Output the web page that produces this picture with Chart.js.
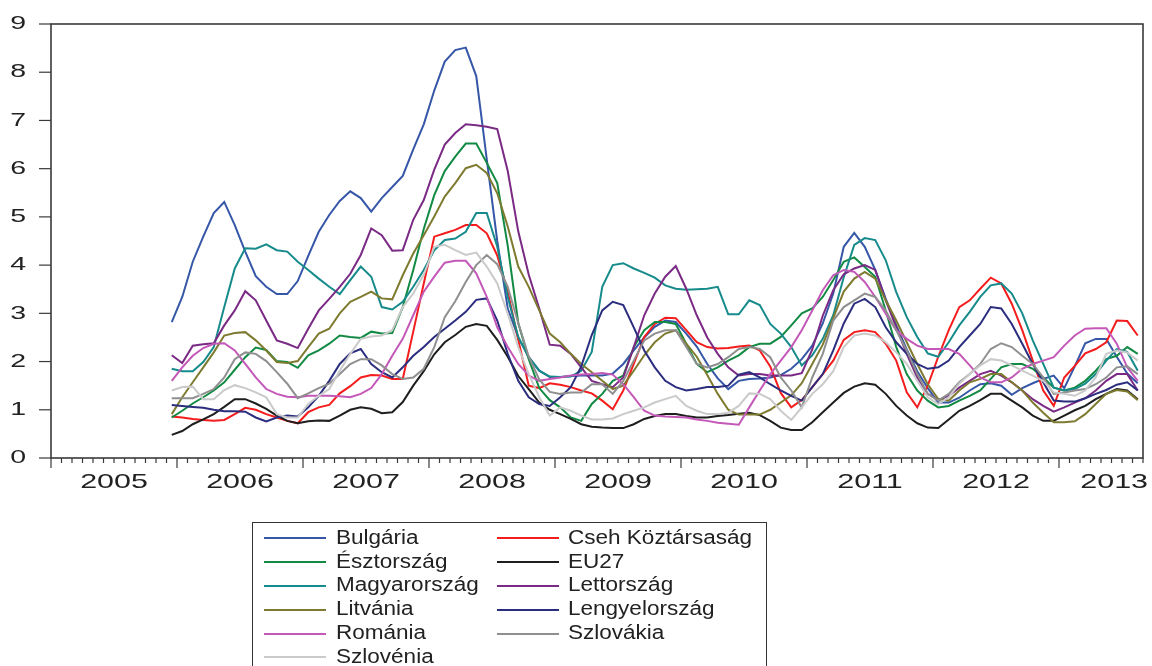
<!DOCTYPE html>
<html>
<head>
<meta charset="utf-8">
<script src="https://cdn.jsdelivr.net/npm/chart.js@4.4.1/dist/chart.umd.min.js"></script>
<style>
  html, body { margin: 0; padding: 0; background: #fff; overflow: hidden; }
  #wrap { position: relative; width: 1152px; height: 666px; }
  #chart { position: absolute; left: 0; top: 0; }
  #legend {
    position: absolute; left: 252px; top: 522px; width: 515px; height: 170px;
    border: 1.3px solid #333; box-sizing: border-box;
  }
  .swatch { position: absolute; width: 62px; height: 2px; }
  .name {
    position: absolute; font: 19.5px "Liberation Sans", Arial, sans-serif; line-height: 19.5px;
    color: #222; white-space: nowrap; transform: scaleX(1.155); transform-origin: 0 50%;
  }
</style>
</head>
<body>
<div id="wrap">
  <canvas id="chart" width="1152" height="666"></canvas>
  <div id="legend"></div>
</div>
<script>
// axis: monthly slots Jan 2005 .. Aug 2013, series start Dec 2005
const years = ['2005', '2006', '2007', '2008', '2009', '2010', '2011', '2012', '2013'];
const lastYearMonths = 8;
const startSlot = 11;
const yTicks = [0, 1, 2, 3, 4, 5, 6, 7, 8, 9];

const names = ['Bulgária', 'Cseh Köztársaság', 'Észtország', 'EU27', 'Magyarország', 'Lettország',
               'Litvánia', 'Lengyelország', 'Románia', 'Szlovákia', 'Szlovénia'];
const colors = ['#3657a7', '#f41c1c', '#138a44', '#1e1e1e', '#178b8b', '#7a2a84',
                '#7e7b30', '#2b2d7e', '#c458b8', '#8f8f8f', '#cacaca'];

const bulgaria = [
  2.82, 3.34, 4.07, 4.59, 5.08, 5.31, 4.83, 4.28, 3.77, 3.55, 3.40, 3.40, 3.67, 4.19, 4.69, 5.04, 5.33, 5.53, 5.39, 5.11, 5.39, 5.62, 5.85, 6.40, 6.92,
  7.62, 8.22, 8.46, 8.51, 7.92, 6.20, 4.50, 3.10, 2.50, 2.09, 1.81, 1.68, 1.68,
  1.70, 1.71, 1.71, 1.71, 1.75, 1.95, 2.23, 2.50, 2.72, 2.85, 2.82, 2.58, 2.31, 1.95, 1.65, 1.43, 1.60, 1.64, 1.65, 1.67, 1.72, 1.85, 2.05, 2.33, 2.79, 3.41, 4.38,
  4.67, 4.38, 3.90, 3.30, 2.75, 2.25, 1.80, 1.45, 1.15, 1.15, 1.25, 1.40, 1.53, 1.55, 1.50, 1.31, 1.45, 1.55, 1.64, 1.71, 1.45, 1.90, 2.38, 2.47, 2.47, 2.10, 1.75, 1.55
];
const cseh = [
  0.86, 0.84, 0.81, 0.79, 0.77, 0.79, 0.91, 1.04, 1.00, 0.91, 0.84, 0.77, 0.72, 0.95, 1.05, 1.10, 1.34, 1.49, 1.67, 1.72, 1.71, 1.64, 1.64, 2.62, 3.62,
  4.59, 4.66, 4.73, 4.83, 4.83, 4.66, 4.20, 3.45, 2.45, 1.50, 1.45, 1.55, 1.52,
  1.47, 1.40, 1.34, 1.19, 1.01, 1.40, 1.95, 2.51, 2.78, 2.91, 2.90, 2.65, 2.40, 2.30, 2.27, 2.28, 2.31, 2.33, 2.23, 1.90, 1.35, 1.05, 1.20, 1.47, 1.74, 2.02, 2.45,
  2.61, 2.65, 2.61, 2.37, 2.02, 1.36, 1.05, 1.50, 2.10, 2.65, 3.13, 3.27, 3.51, 3.74, 3.62, 3.20, 2.65, 2.02, 1.40, 1.08, 1.67, 1.91, 2.17, 2.26, 2.40, 2.85, 2.84, 2.54
];
const esztorszag = [
  0.84, 0.98, 1.13, 1.26, 1.40, 1.57, 1.83, 2.09, 2.29, 2.24, 2.01, 1.99, 1.87, 2.13, 2.23, 2.37, 2.54, 2.51, 2.49, 2.62, 2.58, 2.59, 3.13, 3.90, 4.75,
  5.45, 5.95, 6.25, 6.52, 6.52, 6.12, 5.70, 4.40, 2.80, 2.05, 1.45, 1.20, 1.05,
  0.84, 0.77, 1.12, 1.33, 1.60, 1.71, 2.30, 2.65, 2.82, 2.82, 2.78, 2.37, 1.95, 1.78, 1.88, 2.02, 2.13, 2.30, 2.37, 2.37, 2.51, 2.75, 3.00, 3.10, 3.34, 3.69, 4.07,
  4.16, 3.96, 3.76, 3.06, 2.30, 1.74, 1.40, 1.19, 1.05, 1.08, 1.19, 1.29, 1.40, 1.64, 1.88, 1.95, 1.95, 1.85, 1.67, 1.46, 1.40, 1.46, 1.60, 1.81, 2.05, 2.12, 2.30, 2.16
];
const eu27 = [
  0.48, 0.56, 0.70, 0.80, 0.91, 1.06, 1.22, 1.22, 1.13, 1.02, 0.88, 0.77, 0.72, 0.76, 0.78, 0.77, 0.88, 1.00, 1.05, 1.02, 0.93, 0.95, 1.16, 1.50, 1.80,
  2.15, 2.40, 2.55, 2.72, 2.78, 2.74, 2.45, 2.10, 1.70, 1.43, 1.15, 1.00, 0.91,
  0.81, 0.70, 0.65, 0.63, 0.62, 0.62, 0.70, 0.81, 0.87, 0.91, 0.91, 0.87, 0.84, 0.84, 0.87, 0.89, 0.92, 0.94, 0.89, 0.77, 0.63, 0.58, 0.58, 0.74, 0.95, 1.15, 1.35,
  1.48, 1.55, 1.52, 1.33, 1.08, 0.88, 0.72, 0.63, 0.62, 0.80, 0.98, 1.08, 1.20, 1.33, 1.33, 1.19, 1.05, 0.88, 0.77, 0.77, 0.88, 0.99, 1.08, 1.22, 1.33, 1.43, 1.40, 1.22
];
const magyarorszag = [
  1.85, 1.80, 1.80, 1.99, 2.30, 3.13, 3.93, 4.35, 4.34, 4.43, 4.31, 4.28, 4.07, 3.90, 3.72, 3.55, 3.40, 3.69, 3.97, 3.76, 3.13, 3.08, 3.24, 3.55, 3.90,
  4.31, 4.52, 4.55, 4.69, 5.08, 5.08, 4.38, 3.34, 2.51, 2.09, 1.81, 1.69, 1.68,
  1.69, 1.81, 2.20, 3.55, 4.00, 4.04, 3.93, 3.84, 3.74, 3.58, 3.51, 3.49, 3.50, 3.51, 3.55, 2.98, 2.98, 3.27, 3.17, 2.78, 2.58, 2.30, 1.92, 2.13, 2.47, 2.96, 3.75,
  4.42, 4.56, 4.52, 4.10, 3.44, 2.92, 2.51, 2.17, 2.10, 2.40, 2.75, 3.03, 3.34, 3.58, 3.62, 3.41, 3.00, 2.44, 1.95, 1.46, 1.40, 1.43, 1.54, 1.74, 2.02, 2.26, 2.20, 1.81
];
const lettorszag = [
  2.13, 1.97, 2.33, 2.36, 2.38, 2.75, 3.06, 3.46, 3.27, 2.85, 2.44, 2.37, 2.28, 2.68, 3.06, 3.30, 3.55, 3.82, 4.21, 4.76, 4.62, 4.30, 4.31, 4.94, 5.35,
  5.98, 6.50, 6.74, 6.92, 6.90, 6.87, 6.82, 5.95, 4.70, 3.80, 3.10, 2.35, 2.33,
  2.16, 1.88, 1.60, 1.53, 1.47, 1.67, 2.30, 2.96, 3.41, 3.76, 3.98, 3.51, 2.96, 2.50, 2.16, 1.88, 1.71, 1.74, 1.74, 1.71, 1.71, 1.71, 1.76, 2.25, 2.95, 3.48, 3.81,
  3.93, 4.00, 3.90, 3.27, 2.71, 2.16, 1.67, 1.33, 1.20, 1.29, 1.46, 1.60, 1.74, 1.81, 1.71, 1.57, 1.40, 1.22, 1.08, 0.96, 1.05, 1.15, 1.24, 1.40, 1.60, 1.74, 1.74, 1.40
];
const litvania = [
  0.91, 1.26, 1.57, 1.88, 2.19, 2.54, 2.59, 2.61, 2.44, 2.23, 1.99, 1.97, 2.01, 2.30, 2.58, 2.68, 3.00, 3.24, 3.34, 3.45, 3.31, 3.29, 3.79, 4.24, 4.62,
  5.01, 5.42, 5.70, 6.01, 6.08, 5.91, 5.49, 4.80, 3.97, 3.55, 3.06, 2.58, 2.40,
  2.16, 1.95, 1.78, 1.60, 1.43, 1.50, 1.81, 2.13, 2.40, 2.58, 2.65, 2.37, 2.10, 1.72, 1.33, 1.00, 0.90, 0.90, 0.90, 1.00, 1.15, 1.30, 1.55, 1.95, 2.35, 2.90, 3.45,
  3.72, 3.86, 3.72, 3.27, 2.85, 2.40, 1.95, 1.53, 1.22, 1.19, 1.40, 1.57, 1.64, 1.74, 1.74, 1.57, 1.40, 1.15, 0.94, 0.74, 0.74, 0.76, 0.91, 1.12, 1.33, 1.41, 1.38, 1.20
];
const lengyelorszag = [
  1.10, 1.08, 1.06, 1.04, 1.00, 0.97, 0.97, 0.96, 0.84, 0.76, 0.84, 0.88, 0.86, 1.05, 1.29, 1.60, 1.95, 2.17, 2.26, 1.95, 1.78, 1.67, 1.88, 2.12, 2.30,
  2.51, 2.68, 2.85, 3.03, 3.28, 3.31, 2.85, 2.16, 1.60, 1.26, 1.12, 1.08, 1.26,
  1.47, 1.90, 2.55, 3.06, 3.24, 3.17, 2.71, 2.23, 1.88, 1.60, 1.47, 1.40, 1.43, 1.47, 1.47, 1.50, 1.73, 1.78, 1.67, 1.53, 1.40, 1.29, 1.19, 1.47, 1.74, 2.23, 2.79,
  3.20, 3.30, 3.13, 2.71, 2.40, 2.16, 1.95, 1.85, 1.88, 2.02, 2.30, 2.54, 2.78, 3.13, 3.10, 2.78, 2.37, 1.95, 1.57, 1.19, 1.17, 1.17, 1.24, 1.33, 1.41, 1.52, 1.57, 1.40
];
const romania = [
  1.60, 1.88, 2.12, 2.28, 2.37, 2.38, 2.23, 1.95, 1.67, 1.43, 1.33, 1.27, 1.26, 1.29, 1.29, 1.29, 1.28, 1.26, 1.33, 1.45, 1.74, 2.12, 2.47, 2.96, 3.45,
  3.76, 4.05, 4.09, 4.09, 3.83, 3.34, 2.71, 2.30, 1.95, 1.71, 1.60, 1.64, 1.67,
  1.71, 1.73, 1.74, 1.76, 1.73, 1.53, 1.26, 0.98, 0.88, 0.86, 0.85, 0.84, 0.80, 0.77, 0.73, 0.71, 0.69, 1.05, 1.40, 1.74, 2.02, 2.30, 2.65, 3.06, 3.48, 3.79, 3.90,
  3.86, 3.65, 3.34, 2.99, 2.65, 2.47, 2.33, 2.26, 2.26, 2.26, 2.16, 1.92, 1.67, 1.57, 1.57, 1.67, 1.85, 1.95, 2.02, 2.09, 2.33, 2.54, 2.68, 2.69, 2.69, 2.37, 1.88, 1.60
];
const szlovakia = [
  1.24, 1.24, 1.24, 1.33, 1.43, 1.67, 2.05, 2.19, 2.16, 2.01, 1.78, 1.54, 1.24, 1.34, 1.45, 1.54, 1.74, 1.95, 2.05, 2.05, 1.92, 1.74, 1.64, 1.67, 1.85,
  2.30, 2.92, 3.25, 3.65, 4.00, 4.21, 4.02, 3.55, 2.80, 2.10, 1.63, 1.37, 1.33,
  1.36, 1.36, 1.53, 1.53, 1.33, 1.60, 2.02, 2.44, 2.58, 2.65, 2.65, 2.30, 1.95, 1.88, 1.95, 2.09, 2.26, 2.30, 2.26, 2.09, 1.67, 1.40, 1.05, 1.67, 2.16, 2.85, 3.13,
  3.27, 3.41, 3.34, 3.06, 2.65, 2.23, 1.74, 1.33, 1.19, 1.33, 1.57, 1.74, 1.95, 2.26, 2.38, 2.30, 2.12, 1.95, 1.67, 1.33, 1.36, 1.40, 1.43, 1.53, 1.67, 1.88, 1.90, 1.74
];
const szlovenia = [
  1.40, 1.47, 1.48, 1.22, 1.22, 1.41, 1.51, 1.45, 1.36, 1.26, 0.91, 0.84, 0.84, 1.12, 1.29, 1.43, 1.81, 2.16, 2.47, 2.52, 2.54, 2.65, 3.13, 3.41, 3.80,
  4.38, 4.42, 4.31, 4.21, 4.26, 3.97, 3.62, 2.99, 2.30, 1.74, 1.26, 0.88, 1.05,
  0.98, 0.88, 0.80, 0.80, 0.82, 0.91, 0.98, 1.05, 1.15, 1.22, 1.29, 1.08, 0.98, 0.91, 0.91, 0.94, 1.08, 1.34, 1.33, 1.22, 0.98, 0.79, 1.05, 1.33, 1.53, 1.80, 2.30,
  2.54, 2.58, 2.54, 2.40, 2.19, 1.95, 1.60, 1.26, 1.12, 1.26, 1.54, 1.74, 1.92, 2.05, 2.02, 1.92, 1.81, 1.71, 1.60, 1.36, 1.33, 1.29, 1.40, 1.67, 2.16, 2.23, 2.19, 2.02
];

const seriesValues = [bulgaria, cseh, esztorszag, eu27, magyarorszag, lettorszag,
                      litvania, lengyelorszag, romania, szlovakia, szlovenia];

// one category per month
const months = [];
years.forEach((yr, k) => {
  const n = k === years.length - 1 ? lastYearMonths : 12;
  for (let m = 1; m <= n; m++) months.push(yr + '-' + m);
});

const axisFont = '"Liberation Sans", Arial, sans-serif';

// EViews style frame, month ticks and stretched labels
const eviewsAxes = {
  id: 'eviewsAxes',
  afterDraw(chart) {
    const { ctx, chartArea: a, scales: { x, y } } = chart;
    const step = x.getPixelForValue(1) - x.getPixelForValue(0);
    const x0 = x.getPixelForValue(0) - step / 2;
    ctx.save();
    ctx.strokeStyle = '#3a3a3a';
    ctx.lineWidth = 1.6;
    ctx.strokeRect(a.left, a.top, a.right - a.left, a.bottom - a.top);

    ctx.lineWidth = 1.2;
    ctx.fillStyle = '#222';
    ctx.font = '19px ' + axisFont;
    ctx.textAlign = 'right';
    ctx.textBaseline = 'middle';
    yTicks.forEach(v => {
      const py = y.getPixelForValue(v);
      ctx.beginPath();
      ctx.moveTo(a.left - 12, py);
      ctx.lineTo(a.left, py);
      ctx.stroke();
      ctx.save();
      ctx.translate(a.left - 25, py);
      ctx.scale(1.5, 1);
      ctx.fillText(String(v), 0, 0);
      ctx.restore();
    });

    for (let i = 0; i <= months.length; i++) {
      const px = x0 + i * step;
      ctx.beginPath();
      ctx.moveTo(px, a.bottom);
      ctx.lineTo(px, a.bottom + (i % 12 === 0 ? 10 : 5));
      ctx.stroke();
    }

    ctx.font = '21px ' + axisFont;
    ctx.textAlign = 'center';
    ctx.textBaseline = 'alphabetic';
    years.forEach((yr, k) => {
      const w = ctx.measureText(yr).width * 1.45;
      let cx = x0 + (k * 12 + 6) * step;
      cx = Math.min(cx, a.right + 5 - w / 2);
      ctx.save();
      ctx.translate(cx, a.bottom + 30);
      ctx.scale(1.45, 1);
      ctx.fillText(yr, 0, 0);
      ctx.restore();
    });
    ctx.restore();
  }
};

const lead = new Array(startSlot).fill(null);

const chart = new Chart(document.getElementById('chart'), {
  type: 'line',
  data: {
    labels: months,
    datasets: names.map((name, i) => ({
      label: name,
      data: lead.concat(seriesValues[i]),
      borderColor: colors[i],
      backgroundColor: colors[i],
      borderWidth: 2,
      pointRadius: 0,
      tension: 0,
      fill: false,
      order: names.length - i
    }))
  },
  options: {
    responsive: false,
    animation: false,
    layout: { padding: { left: 51, top: 24, right: 9, bottom: 208 } },
    plugins: { legend: { display: false }, tooltip: { enabled: false } },
    scales: {
      x: { type: 'category', offset: true, display: false },
      y: { type: 'linear', min: 0, max: 9, display: false }
    }
  },
  plugins: [eviewsAxes]
});

// boxed two-column legend under the plot
const legend = document.getElementById('legend');
chart.data.datasets.forEach((ds, i) => {
  const row = Math.floor(i / 2);
  const col = i % 2;
  const cy = 15.3 + row * 23.8;
  const sw = document.createElement('div');
  sw.className = 'swatch';
  sw.style.left = (col ? 244 : 11) + 'px';
  sw.style.top = (cy - 1) + 'px';
  sw.style.background = ds.borderColor;
  legend.appendChild(sw);
  const tx = document.createElement('div');
  tx.className = 'name';
  tx.style.left = (col ? 315 : 83) + 'px';
  tx.style.top = (cy - 10.5) + 'px';
  tx.textContent = ds.label;
  legend.appendChild(tx);
});
</script>
</body>
</html>
